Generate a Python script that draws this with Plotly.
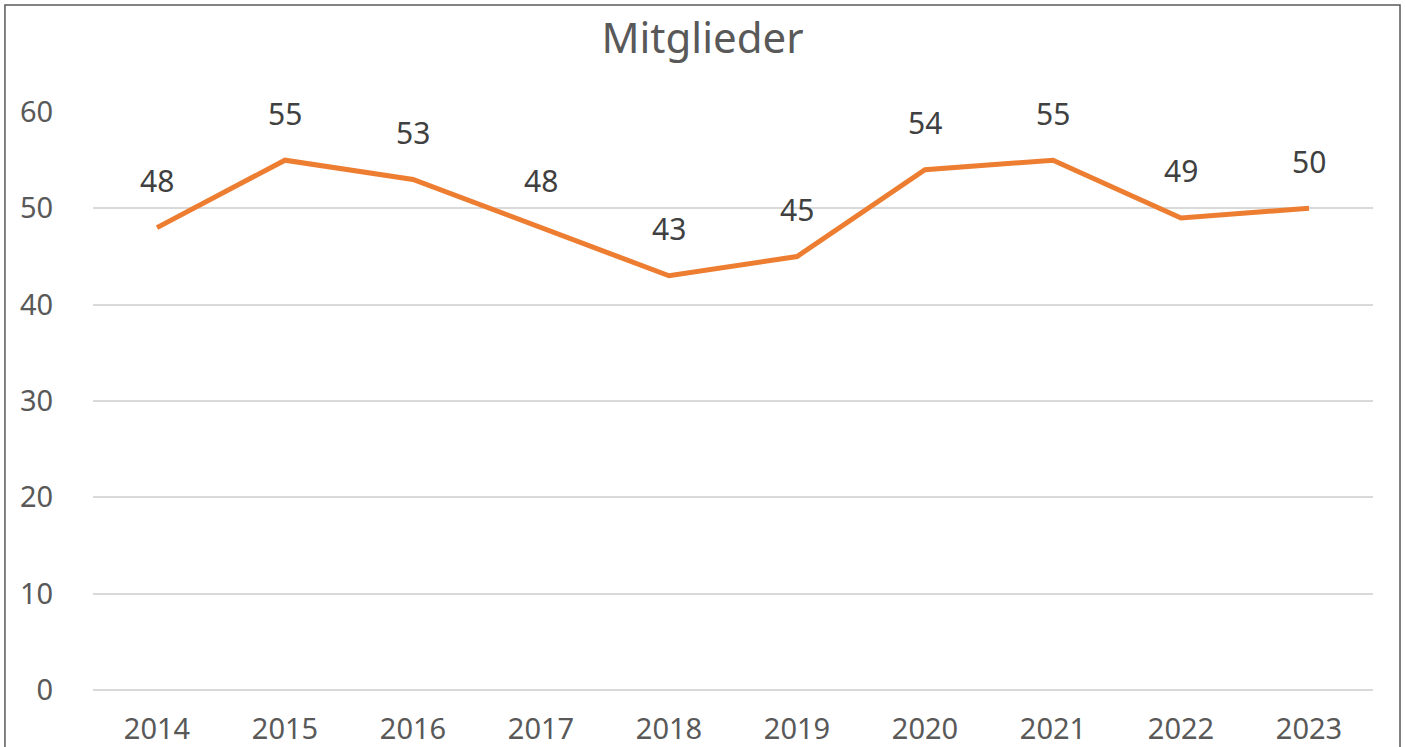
import plotly.graph_objects as go

years = ["2014", "2015", "2016", "2017", "2018", "2019", "2020", "2021", "2022", "2023"]
members = [48, 55, 53, 48, 43, 45, 54, 55, 49, 50]
y_ticks = [0, 10, 20, 30, 40, 50, 60]
title_text = "Mitglieder"

FONT = "Noto Sans"

fig = go.Figure()
fig.add_trace(go.Scatter(
    x=years, y=members, mode="lines",
    line=dict(color="#ED7D31", width=5),
    hoverinfo="x+y", showlegend=False,
))

for i, v in enumerate(members):
    fig.add_annotation(x=i, y=v, xref="x", yref="y", text=str(v), showarrow=False,
                       yshift=47, font=dict(family=FONT, size=30, color="#404040"))

fig.add_shape(type="rect", xref="paper", yref="paper",
              x0=-0.0688, x1=1.0211, y0=-0.13, y1=1.185,
              line=dict(color="#595959", width=1.5), fillcolor="rgba(0,0,0,0)")

fig.update_layout(
    width=1405, height=747,
    margin=dict(l=93, r=32, t=112, b=57, autoexpand=False),
    paper_bgcolor="white", plot_bgcolor="white",
    title=dict(text=title_text, x=0.5, xanchor="center", y=0.949, yanchor="middle",
               font=dict(family=FONT, size=42, color="#595959")),
    xaxis=dict(type="category", categoryorder="array", categoryarray=years,
               range=[-0.5, len(years) - 0.5],
               showgrid=False, showline=False, zeroline=False,
               ticks="outside", ticklen=13, tickcolor="rgba(0,0,0,0)",
               tickfont=dict(family=FONT, size=29, color="#595959")),
    yaxis=dict(range=[0, 60], tickvals=y_ticks, showgrid=True,
               gridcolor="#D9D9D9", gridwidth=1.5, zeroline=True,
               zerolinecolor="#D9D9D9", zerolinewidth=1.5, showline=False,
               ticks="outside", ticklen=33, tickcolor="rgba(0,0,0,0)",
               tickfont=dict(family=FONT, size=29, color="#595959")),
)

fig.write_html("out.html", config={"displayModeBar": False},
               post_script="document.body.style.margin='0';")
